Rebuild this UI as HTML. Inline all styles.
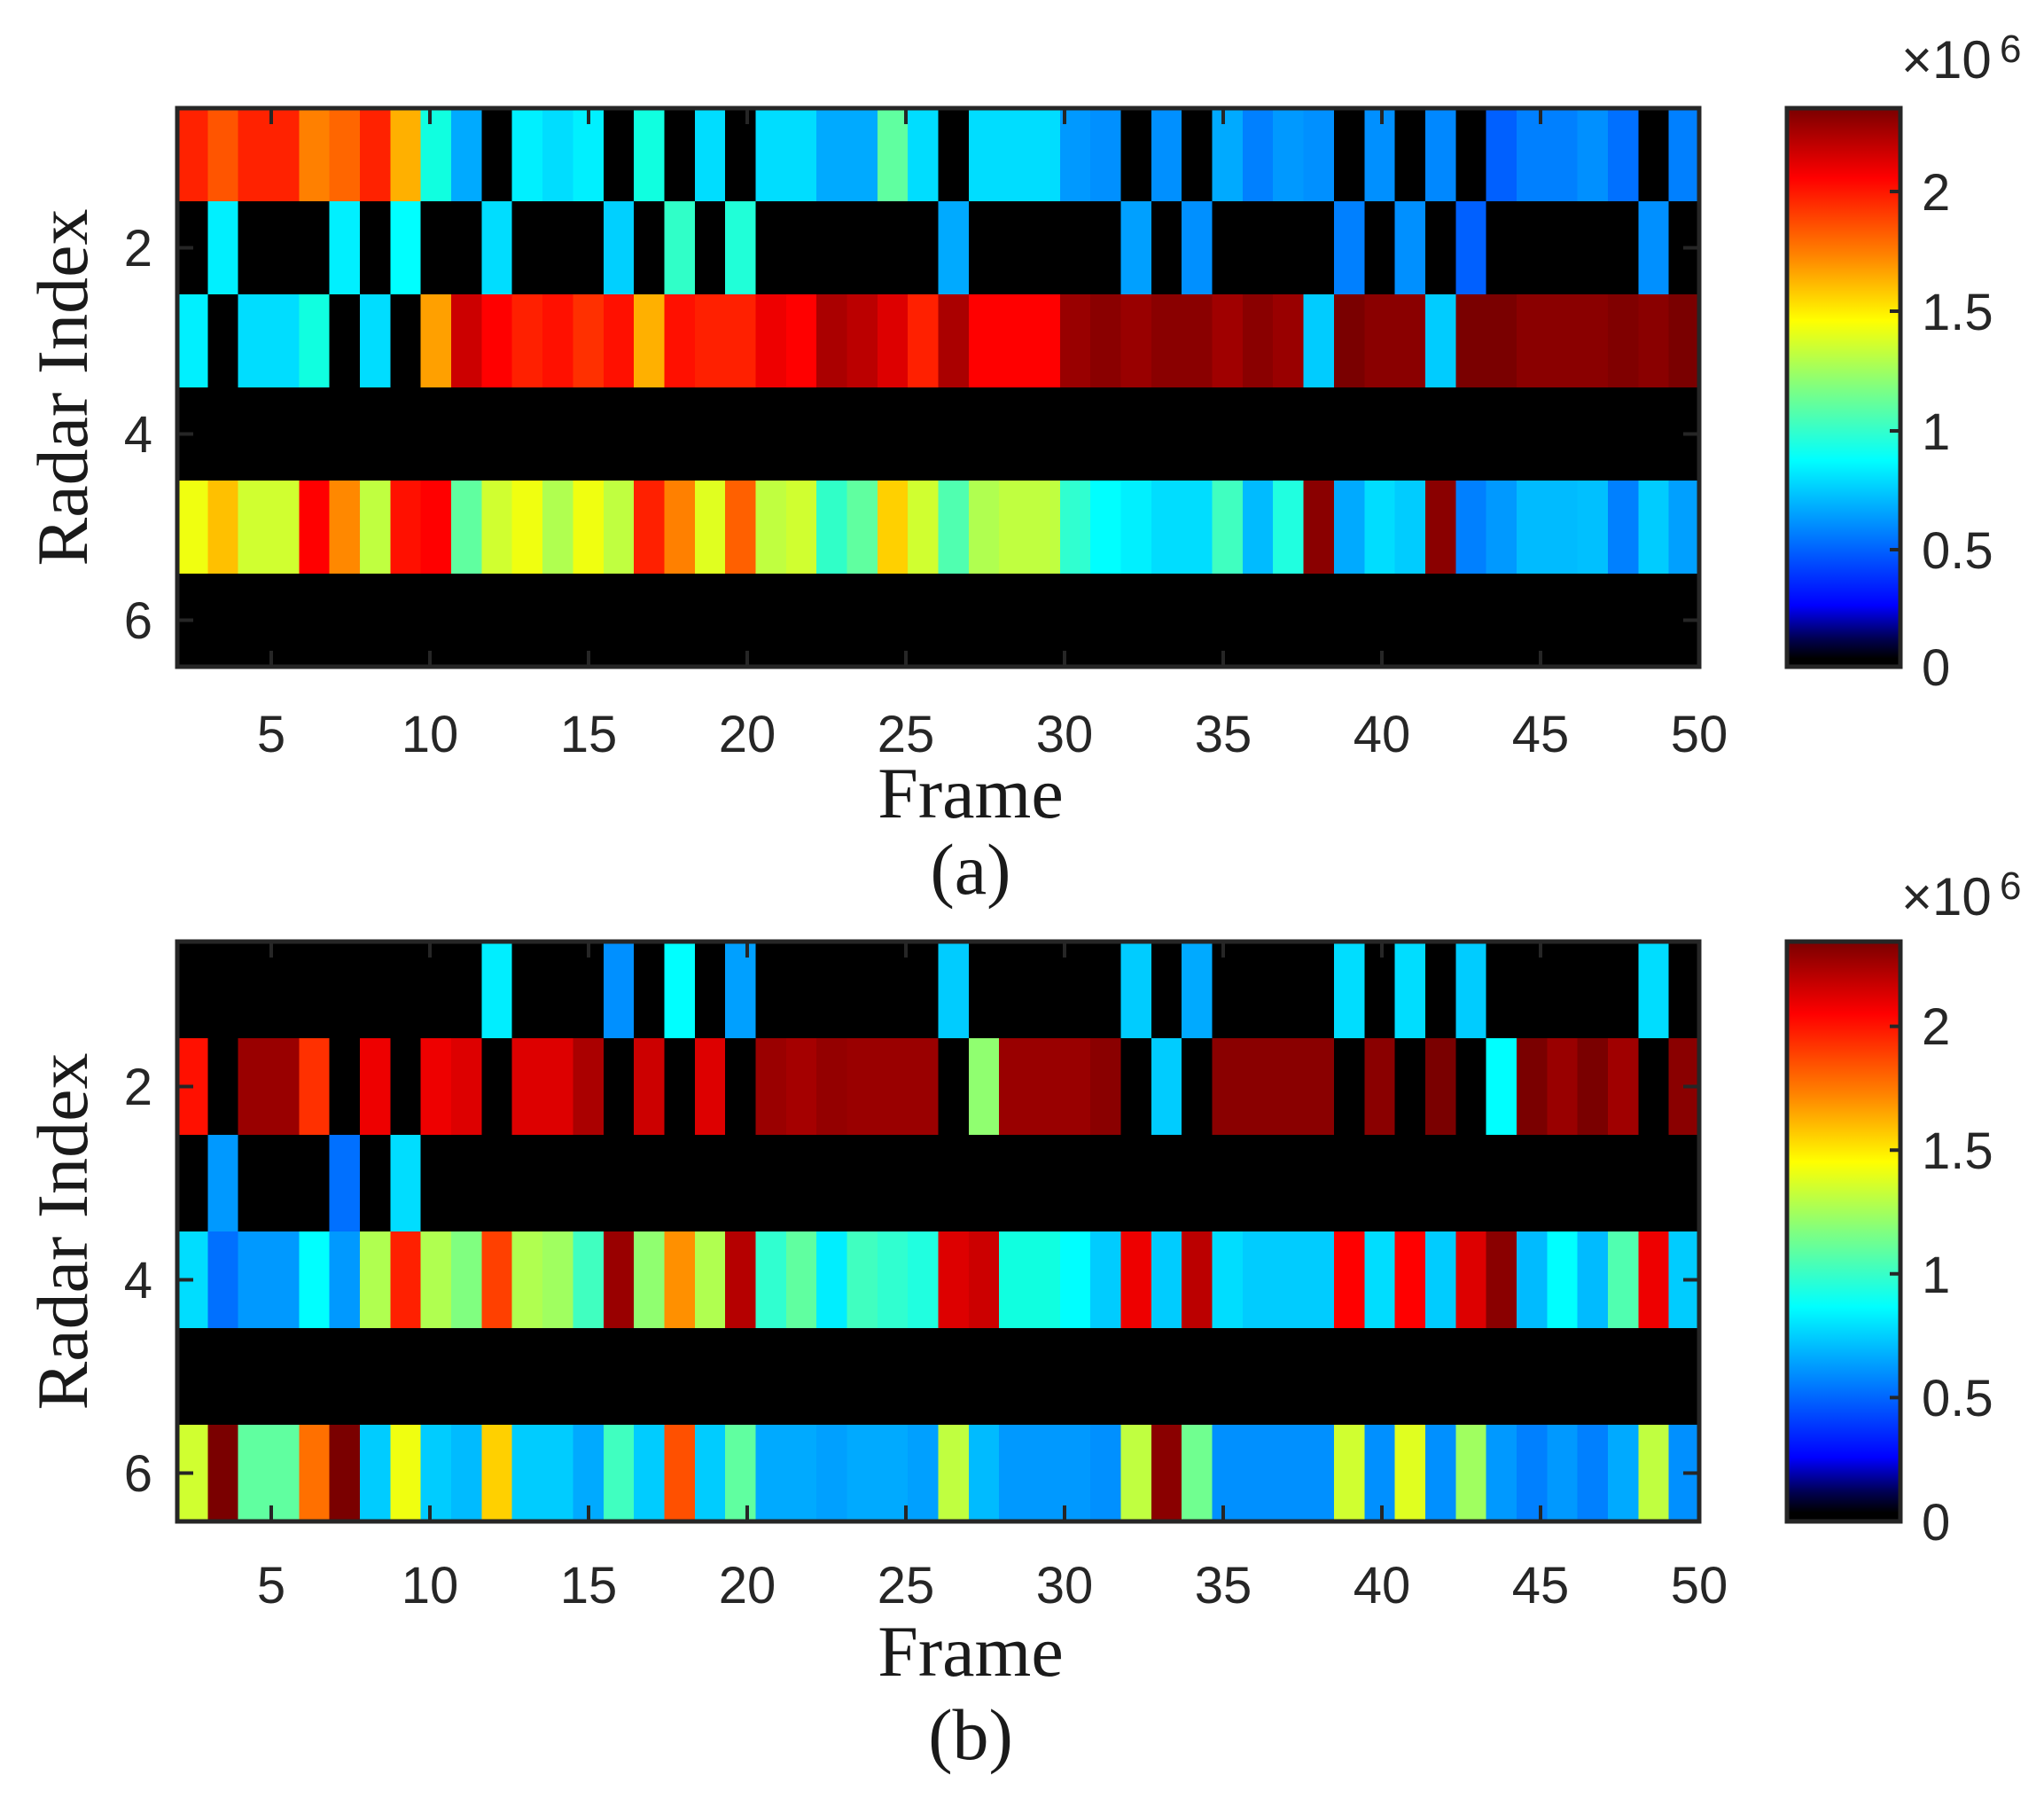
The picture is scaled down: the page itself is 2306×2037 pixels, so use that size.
<!DOCTYPE html>
<html><head><meta charset="utf-8"><style>
html,body{margin:0;padding:0;background:#fff;}
svg{display:block;}
.t{font-family:"Liberation Sans",Arial,sans-serif;font-size:58px;fill:#262626;}
.s{font-family:"Liberation Serif","Times New Roman",serif;font-size:82px;fill:#1a1a1a;}
</style></head><body>
<svg width="2306" height="2037" viewBox="0 0 2306 2037" xmlns="http://www.w3.org/2000/svg">
<defs>
<linearGradient id="jet" x1="0" y1="0" x2="0" y2="1">
<stop offset="0" stop-color="#7a0000"/>
<stop offset="0.125" stop-color="#ff0000"/>
<stop offset="0.26" stop-color="#ff8000"/>
<stop offset="0.38" stop-color="#ffff00"/>
<stop offset="0.5" stop-color="#80ff80"/>
<stop offset="0.63" stop-color="#00ffff"/>
<stop offset="0.76" stop-color="#0080ff"/>
<stop offset="0.89" stop-color="#0000ff"/>
<stop offset="0.95" stop-color="#000050"/>
<stop offset="0.985" stop-color="#000000"/>
<stop offset="1" stop-color="#000000"/>
</linearGradient>
</defs>
<rect width="2306" height="2037" fill="#fff"/>

<!-- Plot A -->
<svg x="200" y="122" width="1717" height="630" viewBox="0 0 50 6" preserveAspectRatio="none" shape-rendering="crispEdges">
<rect x="0" y="0" width="50" height="6" fill="#000"/>
<rect x="0" y="0" width="1.02" height="1" fill="#ff2200"/>
<rect x="1" y="0" width="1.02" height="1" fill="#ff5500"/>
<rect x="2" y="0" width="2.02" height="1" fill="#ff2200"/>
<rect x="4" y="0" width="1.02" height="1" fill="#ff8000"/>
<rect x="5" y="0" width="1.02" height="1" fill="#ff6600"/>
<rect x="6" y="0" width="1.02" height="1" fill="#ff2200"/>
<rect x="7" y="0" width="1.02" height="1" fill="#ffb000"/>
<rect x="8" y="0" width="1.02" height="1" fill="#10ffe0"/>
<rect x="9" y="0" width="1" height="1" fill="#00aaff"/>
<rect x="11" y="0" width="1.02" height="1" fill="#00f0ff"/>
<rect x="12" y="0" width="1.02" height="1" fill="#00ddff"/>
<rect x="13" y="0" width="1" height="1" fill="#00f0ff"/>
<rect x="15" y="0" width="1" height="1" fill="#10ffe0"/>
<rect x="17" y="0" width="1" height="1" fill="#00ddff"/>
<rect x="19" y="0" width="2.02" height="1" fill="#00ddff"/>
<rect x="21" y="0" width="2.02" height="1" fill="#00aaff"/>
<rect x="23" y="0" width="1.02" height="1" fill="#60ffa0"/>
<rect x="24" y="0" width="1" height="1" fill="#00ddff"/>
<rect x="26" y="0" width="3.02" height="1" fill="#00ddff"/>
<rect x="29" y="0" width="1.02" height="1" fill="#0099ff"/>
<rect x="30" y="0" width="1" height="1" fill="#0090ff"/>
<rect x="32" y="0" width="1" height="1" fill="#0090ff"/>
<rect x="34" y="0" width="1.02" height="1" fill="#00aaff"/>
<rect x="35" y="0" width="1.02" height="1" fill="#0080ff"/>
<rect x="36" y="0" width="1.02" height="1" fill="#0099ff"/>
<rect x="37" y="0" width="1" height="1" fill="#0090ff"/>
<rect x="39" y="0" width="1" height="1" fill="#0090ff"/>
<rect x="41" y="0" width="1" height="1" fill="#0088ff"/>
<rect x="43" y="0" width="1.02" height="1" fill="#0060ff"/>
<rect x="44" y="0" width="2.02" height="1" fill="#0080ff"/>
<rect x="46" y="0" width="1.02" height="1" fill="#0090ff"/>
<rect x="47" y="0" width="1" height="1" fill="#0070ff"/>
<rect x="49" y="0" width="1" height="1" fill="#0080ff"/>
<rect x="1" y="1" width="1" height="1" fill="#00f0ff"/>
<rect x="5" y="1" width="1" height="1" fill="#00f0ff"/>
<rect x="7" y="1" width="1" height="1" fill="#00ffff"/>
<rect x="10" y="1" width="1" height="1" fill="#00ddff"/>
<rect x="14" y="1" width="1" height="1" fill="#00d0ff"/>
<rect x="16" y="1" width="1" height="1" fill="#30ffc8"/>
<rect x="18" y="1" width="1" height="1" fill="#20ffd8"/>
<rect x="25" y="1" width="1" height="1" fill="#00aaff"/>
<rect x="31" y="1" width="1" height="1" fill="#00a0ff"/>
<rect x="33" y="1" width="1" height="1" fill="#0090ff"/>
<rect x="38" y="1" width="1" height="1" fill="#0080ff"/>
<rect x="40" y="1" width="1" height="1" fill="#0090ff"/>
<rect x="42" y="1" width="1" height="1" fill="#0060ff"/>
<rect x="48" y="1" width="1" height="1" fill="#0090ff"/>
<rect x="0" y="2" width="1" height="1" fill="#00f0ff"/>
<rect x="2" y="2" width="2.02" height="1" fill="#00ddff"/>
<rect x="4" y="2" width="1" height="1" fill="#10ffe0"/>
<rect x="6" y="2" width="1" height="1" fill="#00ddff"/>
<rect x="8" y="2" width="1.02" height="1" fill="#ffa000"/>
<rect x="9" y="2" width="1.02" height="1" fill="#cc0000"/>
<rect x="10" y="2" width="1.02" height="1" fill="#ff0000"/>
<rect x="11" y="2" width="1.02" height="1" fill="#ff2000"/>
<rect x="12" y="2" width="1.02" height="1" fill="#ff1000"/>
<rect x="13" y="2" width="1.02" height="1" fill="#ff3000"/>
<rect x="14" y="2" width="1.02" height="1" fill="#ff1000"/>
<rect x="15" y="2" width="1.02" height="1" fill="#ffb000"/>
<rect x="16" y="2" width="1.02" height="1" fill="#ff1000"/>
<rect x="17" y="2" width="2.02" height="1" fill="#ff2000"/>
<rect x="19" y="2" width="1.02" height="1" fill="#ee0000"/>
<rect x="20" y="2" width="1.02" height="1" fill="#ff0000"/>
<rect x="21" y="2" width="1.02" height="1" fill="#aa0000"/>
<rect x="22" y="2" width="1.02" height="1" fill="#bb0000"/>
<rect x="23" y="2" width="1.02" height="1" fill="#dd0000"/>
<rect x="24" y="2" width="1.02" height="1" fill="#ff2000"/>
<rect x="25" y="2" width="1.02" height="1" fill="#aa0000"/>
<rect x="26" y="2" width="3.02" height="1" fill="#ff0000"/>
<rect x="29" y="2" width="1.02" height="1" fill="#990000"/>
<rect x="30" y="2" width="1.02" height="1" fill="#8a0000"/>
<rect x="31" y="2" width="1.02" height="1" fill="#990000"/>
<rect x="32" y="2" width="2.02" height="1" fill="#8a0000"/>
<rect x="34" y="2" width="1.02" height="1" fill="#a00000"/>
<rect x="35" y="2" width="1.02" height="1" fill="#8a0000"/>
<rect x="36" y="2" width="1.02" height="1" fill="#990000"/>
<rect x="37" y="2" width="1.02" height="1" fill="#00ccff"/>
<rect x="38" y="2" width="1.02" height="1" fill="#7a0000"/>
<rect x="39" y="2" width="2.02" height="1" fill="#8a0000"/>
<rect x="41" y="2" width="1.02" height="1" fill="#00ccff"/>
<rect x="42" y="2" width="2.02" height="1" fill="#7a0000"/>
<rect x="44" y="2" width="3.02" height="1" fill="#8a0000"/>
<rect x="47" y="2" width="1.02" height="1" fill="#800000"/>
<rect x="48" y="2" width="1.02" height="1" fill="#8a0000"/>
<rect x="49" y="2" width="1" height="1" fill="#7a0000"/>
<rect x="0" y="4" width="1.02" height="1" fill="#f0ff10"/>
<rect x="1" y="4" width="1.02" height="1" fill="#ffc000"/>
<rect x="2" y="4" width="2.02" height="1" fill="#d0ff30"/>
<rect x="4" y="4" width="1.02" height="1" fill="#ff0000"/>
<rect x="5" y="4" width="1.02" height="1" fill="#ff8800"/>
<rect x="6" y="4" width="1.02" height="1" fill="#c0ff40"/>
<rect x="7" y="4" width="1.02" height="1" fill="#ff1000"/>
<rect x="8" y="4" width="1.02" height="1" fill="#ff0000"/>
<rect x="9" y="4" width="1.02" height="1" fill="#60ffa0"/>
<rect x="10" y="4" width="1.02" height="1" fill="#d0ff30"/>
<rect x="11" y="4" width="1.02" height="1" fill="#f0ff10"/>
<rect x="12" y="4" width="1.02" height="1" fill="#b0ff50"/>
<rect x="13" y="4" width="1.02" height="1" fill="#f0ff10"/>
<rect x="14" y="4" width="1.02" height="1" fill="#c0ff40"/>
<rect x="15" y="4" width="1.02" height="1" fill="#ff2000"/>
<rect x="16" y="4" width="1.02" height="1" fill="#ff8000"/>
<rect x="17" y="4" width="1.02" height="1" fill="#e0ff20"/>
<rect x="18" y="4" width="1.02" height="1" fill="#ff6000"/>
<rect x="19" y="4" width="1.02" height="1" fill="#c0ff40"/>
<rect x="20" y="4" width="1.02" height="1" fill="#d0ff30"/>
<rect x="21" y="4" width="1.02" height="1" fill="#30ffc8"/>
<rect x="22" y="4" width="1.02" height="1" fill="#60ffa0"/>
<rect x="23" y="4" width="1.02" height="1" fill="#ffd000"/>
<rect x="24" y="4" width="1.02" height="1" fill="#d0ff30"/>
<rect x="25" y="4" width="1.02" height="1" fill="#50ffb0"/>
<rect x="26" y="4" width="1.02" height="1" fill="#b0ff50"/>
<rect x="27" y="4" width="2.02" height="1" fill="#c0ff40"/>
<rect x="29" y="4" width="1.02" height="1" fill="#30ffd0"/>
<rect x="30" y="4" width="1.02" height="1" fill="#00ffff"/>
<rect x="31" y="4" width="1.02" height="1" fill="#00f0ff"/>
<rect x="32" y="4" width="2.02" height="1" fill="#00ddff"/>
<rect x="34" y="4" width="1.02" height="1" fill="#40ffc0"/>
<rect x="35" y="4" width="1.02" height="1" fill="#00bbff"/>
<rect x="36" y="4" width="1.02" height="1" fill="#20ffe0"/>
<rect x="37" y="4" width="1.02" height="1" fill="#8a0000"/>
<rect x="38" y="4" width="1.02" height="1" fill="#00aaff"/>
<rect x="39" y="4" width="1.02" height="1" fill="#00ddff"/>
<rect x="40" y="4" width="1.02" height="1" fill="#00ccff"/>
<rect x="41" y="4" width="1.02" height="1" fill="#8a0000"/>
<rect x="42" y="4" width="1.02" height="1" fill="#0080ff"/>
<rect x="43" y="4" width="1.02" height="1" fill="#0099ff"/>
<rect x="44" y="4" width="2.02" height="1" fill="#00bbff"/>
<rect x="46" y="4" width="1.02" height="1" fill="#00c0ff"/>
<rect x="47" y="4" width="1.02" height="1" fill="#0080ff"/>
<rect x="48" y="4" width="1.02" height="1" fill="#00ccff"/>
<rect x="49" y="4" width="1" height="1" fill="#00a0ff"/>
</svg>

<!-- Plot B -->
<svg x="200" y="1062" width="1717" height="654" viewBox="0 0 50 6" preserveAspectRatio="none" shape-rendering="crispEdges">
<rect x="0" y="0" width="50" height="6" fill="#000"/>
<rect x="10" y="0" width="1" height="1" fill="#00eeff"/>
<rect x="14" y="0" width="1" height="1" fill="#0090ff"/>
<rect x="16" y="0" width="1" height="1" fill="#00ffff"/>
<rect x="18" y="0" width="1" height="1" fill="#00a0ff"/>
<rect x="25" y="0" width="1" height="1" fill="#00ccff"/>
<rect x="31" y="0" width="1" height="1" fill="#00ccff"/>
<rect x="33" y="0" width="1" height="1" fill="#00aaff"/>
<rect x="38" y="0" width="1" height="1" fill="#00ddff"/>
<rect x="40" y="0" width="1" height="1" fill="#00ddff"/>
<rect x="42" y="0" width="1" height="1" fill="#00ccff"/>
<rect x="48" y="0" width="1" height="1" fill="#00ddff"/>
<rect x="0" y="1" width="1" height="1" fill="#ff1000"/>
<rect x="2" y="1" width="2.02" height="1" fill="#990000"/>
<rect x="4" y="1" width="1" height="1" fill="#ff3000"/>
<rect x="6" y="1" width="1" height="1" fill="#ee0000"/>
<rect x="8" y="1" width="1.02" height="1" fill="#ee0000"/>
<rect x="9" y="1" width="1" height="1" fill="#dd0000"/>
<rect x="11" y="1" width="2.02" height="1" fill="#dd0000"/>
<rect x="13" y="1" width="1" height="1" fill="#aa0000"/>
<rect x="15" y="1" width="1" height="1" fill="#cc0000"/>
<rect x="17" y="1" width="1" height="1" fill="#dd0000"/>
<rect x="19" y="1" width="1.02" height="1" fill="#9a0000"/>
<rect x="20" y="1" width="1.02" height="1" fill="#a50000"/>
<rect x="21" y="1" width="1.02" height="1" fill="#940000"/>
<rect x="22" y="1" width="3" height="1" fill="#9a0000"/>
<rect x="26" y="1" width="1.02" height="1" fill="#90ff70"/>
<rect x="27" y="1" width="3.02" height="1" fill="#990000"/>
<rect x="30" y="1" width="1" height="1" fill="#8a0000"/>
<rect x="32" y="1" width="1" height="1" fill="#00ccff"/>
<rect x="34" y="1" width="4" height="1" fill="#8a0000"/>
<rect x="39" y="1" width="1" height="1" fill="#8a0000"/>
<rect x="41" y="1" width="1" height="1" fill="#7a0000"/>
<rect x="43" y="1" width="1.02" height="1" fill="#00ffff"/>
<rect x="44" y="1" width="1.02" height="1" fill="#7a0000"/>
<rect x="45" y="1" width="1.02" height="1" fill="#990000"/>
<rect x="46" y="1" width="1.02" height="1" fill="#7a0000"/>
<rect x="47" y="1" width="1" height="1" fill="#a00000"/>
<rect x="49" y="1" width="1" height="1" fill="#8a0000"/>
<rect x="1" y="2" width="1" height="1" fill="#0099ff"/>
<rect x="5" y="2" width="1" height="1" fill="#0070ff"/>
<rect x="7" y="2" width="1" height="1" fill="#00ddff"/>
<rect x="0" y="3" width="1.02" height="1" fill="#00ddff"/>
<rect x="1" y="3" width="1.02" height="1" fill="#0070ff"/>
<rect x="2" y="3" width="2.02" height="1" fill="#0099ff"/>
<rect x="4" y="3" width="1.02" height="1" fill="#00ffff"/>
<rect x="5" y="3" width="1.02" height="1" fill="#0099ff"/>
<rect x="6" y="3" width="1.02" height="1" fill="#b0ff50"/>
<rect x="7" y="3" width="1.02" height="1" fill="#ff2000"/>
<rect x="8" y="3" width="1.02" height="1" fill="#b0ff50"/>
<rect x="9" y="3" width="1.02" height="1" fill="#80ff80"/>
<rect x="10" y="3" width="1.02" height="1" fill="#ff4000"/>
<rect x="11" y="3" width="1.02" height="1" fill="#b0ff50"/>
<rect x="12" y="3" width="1.02" height="1" fill="#a0ff60"/>
<rect x="13" y="3" width="1.02" height="1" fill="#40ffc0"/>
<rect x="14" y="3" width="1.02" height="1" fill="#990000"/>
<rect x="15" y="3" width="1.02" height="1" fill="#90ff70"/>
<rect x="16" y="3" width="1.02" height="1" fill="#ff9000"/>
<rect x="17" y="3" width="1.02" height="1" fill="#b0ff50"/>
<rect x="18" y="3" width="1.02" height="1" fill="#b50000"/>
<rect x="19" y="3" width="1.02" height="1" fill="#30ffd0"/>
<rect x="20" y="3" width="1.02" height="1" fill="#60ffa0"/>
<rect x="21" y="3" width="1.02" height="1" fill="#00eeff"/>
<rect x="22" y="3" width="1.02" height="1" fill="#40ffc0"/>
<rect x="23" y="3" width="1.02" height="1" fill="#30ffd0"/>
<rect x="24" y="3" width="1.02" height="1" fill="#20ffe0"/>
<rect x="25" y="3" width="1.02" height="1" fill="#dd0000"/>
<rect x="26" y="3" width="1.02" height="1" fill="#cc0000"/>
<rect x="27" y="3" width="2.02" height="1" fill="#10ffe0"/>
<rect x="29" y="3" width="1.02" height="1" fill="#00ffff"/>
<rect x="30" y="3" width="1.02" height="1" fill="#00ccff"/>
<rect x="31" y="3" width="1.02" height="1" fill="#ee0000"/>
<rect x="32" y="3" width="1.02" height="1" fill="#00ccff"/>
<rect x="33" y="3" width="1.02" height="1" fill="#bb0000"/>
<rect x="34" y="3" width="1.02" height="1" fill="#00ddff"/>
<rect x="35" y="3" width="3.02" height="1" fill="#00ccff"/>
<rect x="38" y="3" width="1.02" height="1" fill="#ff0000"/>
<rect x="39" y="3" width="1.02" height="1" fill="#00ddff"/>
<rect x="40" y="3" width="1.02" height="1" fill="#ff0000"/>
<rect x="41" y="3" width="1.02" height="1" fill="#00ccff"/>
<rect x="42" y="3" width="1.02" height="1" fill="#dd0000"/>
<rect x="43" y="3" width="1.02" height="1" fill="#8a0000"/>
<rect x="44" y="3" width="1.02" height="1" fill="#00bbff"/>
<rect x="45" y="3" width="1.02" height="1" fill="#00ffff"/>
<rect x="46" y="3" width="1.02" height="1" fill="#00bbff"/>
<rect x="47" y="3" width="1.02" height="1" fill="#50ffb0"/>
<rect x="48" y="3" width="1.02" height="1" fill="#ee0000"/>
<rect x="49" y="3" width="1" height="1" fill="#00ccff"/>
<rect x="0" y="5" width="1.02" height="1" fill="#d0ff30"/>
<rect x="1" y="5" width="1.02" height="1" fill="#7a0000"/>
<rect x="2" y="5" width="2.02" height="1" fill="#60ffa0"/>
<rect x="4" y="5" width="1.02" height="1" fill="#ff7000"/>
<rect x="5" y="5" width="1.02" height="1" fill="#7a0000"/>
<rect x="6" y="5" width="1.02" height="1" fill="#00ccff"/>
<rect x="7" y="5" width="1.02" height="1" fill="#f0ff10"/>
<rect x="8" y="5" width="1.02" height="1" fill="#00ccff"/>
<rect x="9" y="5" width="1.02" height="1" fill="#00bbff"/>
<rect x="10" y="5" width="1.02" height="1" fill="#ffd000"/>
<rect x="11" y="5" width="2.02" height="1" fill="#00ccff"/>
<rect x="13" y="5" width="1.02" height="1" fill="#00aaff"/>
<rect x="14" y="5" width="1.02" height="1" fill="#40ffc0"/>
<rect x="15" y="5" width="1.02" height="1" fill="#00ccff"/>
<rect x="16" y="5" width="1.02" height="1" fill="#ff5000"/>
<rect x="17" y="5" width="1.02" height="1" fill="#00ccff"/>
<rect x="18" y="5" width="1.02" height="1" fill="#60ffa0"/>
<rect x="19" y="5" width="2.02" height="1" fill="#00aaff"/>
<rect x="21" y="5" width="1.02" height="1" fill="#00a0ff"/>
<rect x="22" y="5" width="2.02" height="1" fill="#00aaff"/>
<rect x="24" y="5" width="1.02" height="1" fill="#00a0ff"/>
<rect x="25" y="5" width="1.02" height="1" fill="#c0ff40"/>
<rect x="26" y="5" width="1.02" height="1" fill="#00bbff"/>
<rect x="27" y="5" width="3.02" height="1" fill="#0099ff"/>
<rect x="30" y="5" width="1.02" height="1" fill="#0090ff"/>
<rect x="31" y="5" width="1.02" height="1" fill="#c0ff40"/>
<rect x="32" y="5" width="1.02" height="1" fill="#8a0000"/>
<rect x="33" y="5" width="1.02" height="1" fill="#70ff90"/>
<rect x="34" y="5" width="4.02" height="1" fill="#0090ff"/>
<rect x="38" y="5" width="1.02" height="1" fill="#d0ff30"/>
<rect x="39" y="5" width="1.02" height="1" fill="#0090ff"/>
<rect x="40" y="5" width="1.02" height="1" fill="#e0ff20"/>
<rect x="41" y="5" width="1.02" height="1" fill="#0090ff"/>
<rect x="42" y="5" width="1.02" height="1" fill="#a0ff60"/>
<rect x="43" y="5" width="1.02" height="1" fill="#0099ff"/>
<rect x="44" y="5" width="1.02" height="1" fill="#0080ff"/>
<rect x="45" y="5" width="1.02" height="1" fill="#0099ff"/>
<rect x="46" y="5" width="1.02" height="1" fill="#0080ff"/>
<rect x="47" y="5" width="1.02" height="1" fill="#00aaff"/>
<rect x="48" y="5" width="1.02" height="1" fill="#c0ff40"/>
<rect x="49" y="5" width="1" height="1" fill="#0090ff"/>
</svg>

<g stroke="#262626" fill="none">
<rect x="200" y="122" width="1717" height="630" stroke-width="5"/>
<rect x="200" y="1062" width="1717" height="654" stroke-width="5"/>
<path stroke-width="4" d="
M306 122v18M485 122v18M664 122v18M843 122v18M1022 122v18M1201 122v18M1380 122v18M1559 122v18M1738 122v18
M306 752v-18M485 752v-18M664 752v-18M843 752v-18M1022 752v-18M1201 752v-18M1380 752v-18M1559 752v-18M1738 752v-18
M200 279.5h18M200 489.5h18M200 699.5h18M1917 279.5h-18M1917 489.5h-18M1917 699.5h-18
M306 1062v18M485 1062v18M664 1062v18M843 1062v18M1022 1062v18M1201 1062v18M1380 1062v18M1559 1062v18M1738 1062v18
M306 1716v-18M485 1716v-18M664 1716v-18M843 1716v-18M1022 1716v-18M1201 1716v-18M1380 1716v-18M1559 1716v-18M1738 1716v-18
M200 1225.5h18M200 1443.5h18M200 1661.5h18M1917 1225.5h-18M1917 1443.5h-18M1917 1661.5h-18"/>
</g>

<rect x="2016" y="122" width="128" height="630" fill="url(#jet)" stroke="#262626" stroke-width="5"/>
<rect x="2016" y="1062" width="128" height="654" fill="url(#jet)" stroke="#262626" stroke-width="5"/>
<path stroke="#262626" stroke-width="4" d="M2144 216h-12M2144 351h-12M2144 486h-12M2144 620h-12
M2144 1157.6h-12M2144 1297.2h-12M2144 1436.8h-12M2144 1576.4h-12"/>

<g class="t" text-anchor="middle">
<text x="306" y="848">5</text><text x="485" y="848">10</text><text x="664" y="848">15</text>
<text x="843" y="848">20</text><text x="1022" y="848">25</text><text x="1201" y="848">30</text>
<text x="1380" y="848">35</text><text x="1559" y="848">40</text><text x="1738" y="848">45</text><text x="1917" y="848">50</text>
<text x="306" y="1808">5</text><text x="485" y="1808">10</text><text x="664" y="1808">15</text>
<text x="843" y="1808">20</text><text x="1022" y="1808">25</text><text x="1201" y="1808">30</text>
<text x="1380" y="1808">35</text><text x="1559" y="1808">40</text><text x="1738" y="1808">45</text><text x="1917" y="1808">50</text>
</g>
<g class="t" text-anchor="end">
<text x="172" y="300">2</text><text x="172" y="510">4</text><text x="172" y="720">6</text>
<text x="172" y="1246">2</text><text x="172" y="1464">4</text><text x="172" y="1682">6</text>
</g>
<g class="t">
<text x="2168" y="237">2</text><text x="2168" y="372">1.5</text><text x="2168" y="507">1</text>
<text x="2168" y="641">0.5</text><text x="2168" y="773">0</text>
<text x="2168" y="1178">2</text><text x="2168" y="1318">1.5</text><text x="2168" y="1458">1</text>
<text x="2168" y="1597">0.5</text><text x="2168" y="1737">0</text>
<text x="2145" y="88" style="font-size:60px">×10</text><text x="2256" y="70" style="font-size:44px">6</text>
<text x="2145" y="1032" style="font-size:60px">×10</text><text x="2256" y="1014" style="font-size:44px">6</text>
</g>

<g class="s" text-anchor="middle">
<text x="1095" y="922">Frame</text>
<text x="1095" y="1008">(a)</text>
<text x="1095" y="1890">Frame</text>
<text x="1095" y="1984">(b)</text>
<text transform="translate(98,437) rotate(-90)">Radar Index</text>
<text transform="translate(98,1389) rotate(-90)">Radar Index</text>
</g>
</svg>
</body></html>
